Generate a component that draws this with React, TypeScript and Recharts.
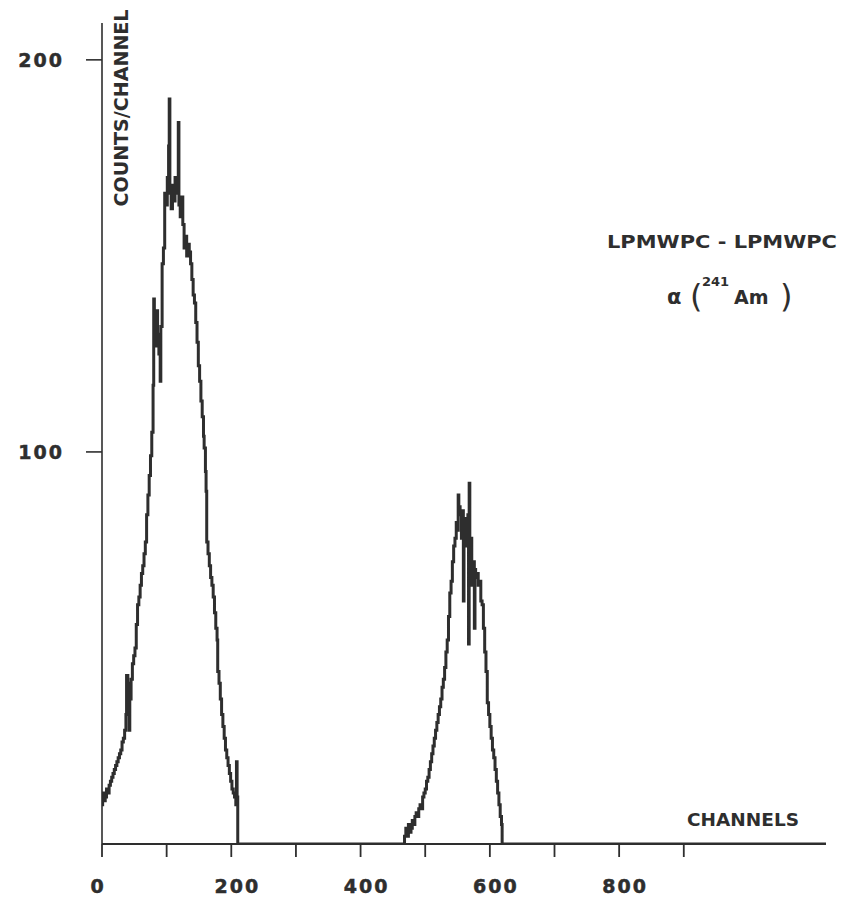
import React from 'react';
import { LineChart, Line, XAxis, YAxis, Customized } from 'recharts';

// Low-energy peak (channels, counts/channel)
const peak1Channels = [0, 1, 3, 5, 7, 9, 11, 13, 15, 17, 19, 21, 23, 25, 27, 29, 31, 33, 35, 37, 38, 40, 42, 43, 45, 47, 49, 51, 53, 55, 57, 59, 61, 63, 65, 67, 69, 71, 73, 75, 77, 79, 80, 81, 82, 84, 86, 88, 90, 91, 93, 95, 97, 99, 101, 103, 104, 105, 107, 109, 111, 113, 115, 117, 118, 119, 121, 123, 125, 127, 129, 131, 133, 135, 137, 139, 141, 143, 145, 147, 149, 151, 153, 155, 157, 158, 160, 161, 162, 164, 166, 168, 170, 172, 174, 176, 178, 179, 181, 183, 185, 187, 189, 191, 193, 195, 197, 199, 201, 203, 205, 207, 208, 209, 210];
const peak1Counts = [10, 13, 11, 12, 14, 13, 15, 16, 17, 18, 19, 20, 21, 22, 23, 24, 26, 27, 29, 33, 43, 41, 29, 37, 42, 46, 48, 50, 56, 61, 63, 66, 69, 71, 74, 77, 84, 89, 94, 99, 105, 117, 139, 133, 127, 136, 130, 125, 118, 132, 148, 152, 166, 163, 170, 178, 190, 166, 162, 168, 164, 170, 166, 168, 184, 163, 160, 165, 158, 152, 155, 150, 153, 151, 148, 144, 140, 138, 133, 128, 122, 118, 113, 109, 104, 101, 95, 90, 77, 74, 71, 68, 66, 63, 59, 55, 52, 44, 41, 37, 33, 30, 27, 24, 22, 20, 18, 16, 14, 13, 12, 10, 21, 12, 0];

// High-energy peak
const peak2Channels = [466, 468, 470, 472, 474, 476, 478, 480, 482, 484, 486, 488, 490, 492, 494, 496, 498, 500, 502, 504, 506, 508, 510, 512, 514, 516, 518, 520, 522, 524, 526, 528, 530, 532, 534, 536, 538, 540, 542, 544, 546, 548, 550, 551, 552, 554, 556, 558, 559, 560, 562, 564, 566, 567, 568, 569, 570, 572, 574, 576, 577, 578, 580, 582, 584, 586, 588, 590, 592, 594, 596, 598, 600, 602, 604, 606, 608, 610, 612, 614, 616, 618, 619];
const peak2Counts = [0, 2, 4, 2, 5, 3, 4, 6, 5, 7, 8, 7, 9, 10, 9, 12, 13, 14, 16, 17, 19, 21, 23, 25, 27, 29, 31, 33, 35, 37, 40, 42, 45, 49, 52, 58, 64, 67, 72, 76, 78, 82, 80, 89, 86, 84, 78, 85, 62, 83, 80, 76, 84, 51, 92, 74, 78, 66, 72, 55, 70, 68, 69, 66, 67, 62, 61, 55, 49, 44, 36, 33, 30, 27, 24, 22, 19, 16, 13, 10, 7, 5, 0];

// Empty channels to the end of the spectrum
const tailChannels = [1120];
const tailCounts = [0];

const xTicks = [0, 100, 200, 300, 400, 500, 600, 700, 800, 900];
const xLabels = [0, 200, 400, 600, 800];
const yTicks = [100, 200];

const data = [
  ...peak1Channels.map((c, i) => ({ ch: c, n: peak1Counts[i] })),
  ...peak2Channels.map((c, i) => ({ ch: c, n: peak2Counts[i] })),
  ...tailChannels.map((c, i) => ({ ch: c, n: tailCounts[i] })),
];

const INK = '#2e2e2e';
const FONT = '"DejaVu Sans", "Liberation Sans", Arial, sans-serif';

const XTick = (props: any) => {
  const { x, y, payload } = props;
  if (!xLabels.includes(payload.value)) return <g />;
  const s = String(payload.value);
  const dx = payload.value === 0 ? -5 : 6;
  return (
    <text x={x + dx} y={y + 34} textAnchor="middle" fontFamily={FONT} fontWeight="bold" fontSize={19} fill={INK}
      stroke={INK} strokeWidth={0.5} letterSpacing={s.length > 1 ? 2 : 0}>
      {s}
    </text>
  );
};

const YTick = (props: any) => {
  const { x, y, payload } = props;
  return (
    <text x={x} y={y} dy="0.36em" textAnchor="end" fontFamily={FONT} fontWeight="bold" fontSize={19} fill={INK}
      stroke={INK} strokeWidth={0.5} letterSpacing={2}>
      {String(payload.value)}
    </text>
  );
};

const Annotations = () => (
  <g fontFamily={FONT} fill={INK} fontWeight="bold">
    <text transform="translate(128,108) rotate(-90)" textAnchor="middle" fontSize={19} textLength={197} lengthAdjust="spacingAndGlyphs">
      COUNTS/CHANNEL
    </text>
    <text x={687} y={826} fontSize={18} textLength={112} lengthAdjust="spacingAndGlyphs">CHANNELS</text>
    <text x={607} y={248} fontSize={18} textLength={230} lengthAdjust="spacingAndGlyphs">LPMWPC - LPMWPC</text>
    <text x={667} y={304} fontSize={21}>α</text>
    <text x={690} y={307} fontSize={32} fontWeight="normal">(</text>
    <text x={702} y={286} fontSize={13}>241</text>
    <text x={734} y={304} fontSize={19}>Am</text>
    <text x={780} y={307} fontSize={32} fontWeight="normal">)</text>
  </g>
);

export default function App() {
  return (
    <div style={{ position: 'absolute', left: 0, top: 0, width: 846, height: 901, background: '#fff' }}>
      <LineChart width={846} height={901} data={data} margin={{ top: 23, right: 20, bottom: 0, left: 0 }}>
        <XAxis
          dataKey="ch"
          type="number"
          domain={[0, 1120]}
          ticks={xTicks}
          interval={0}
          height={57}
          tickSize={13}
          tickMargin={2}
          tick={<XTick />}
          axisLine={{ stroke: INK, strokeWidth: 1.8 }}
          tickLine={{ stroke: INK, strokeWidth: 1.8 }}
          allowDataOverflow
        />
        <YAxis
          type="number"
          domain={[0, 209.4]}
          ticks={yTicks}
          interval={0}
          width={102}
          tickSize={16}
          tickMargin={22}
          tick={<YTick />}
          axisLine={{ stroke: INK, strokeWidth: 1.6 }}
          tickLine={{ stroke: INK, strokeWidth: 1.6 }}
          allowDataOverflow
        />
        <Line
          type="stepAfter"
          dataKey="n"
          stroke={INK}
          strokeWidth={3}
          dot={false}
          isAnimationActive={false}
        />
        <Customized component={Annotations} />
      </LineChart>
    </div>
  );
}
